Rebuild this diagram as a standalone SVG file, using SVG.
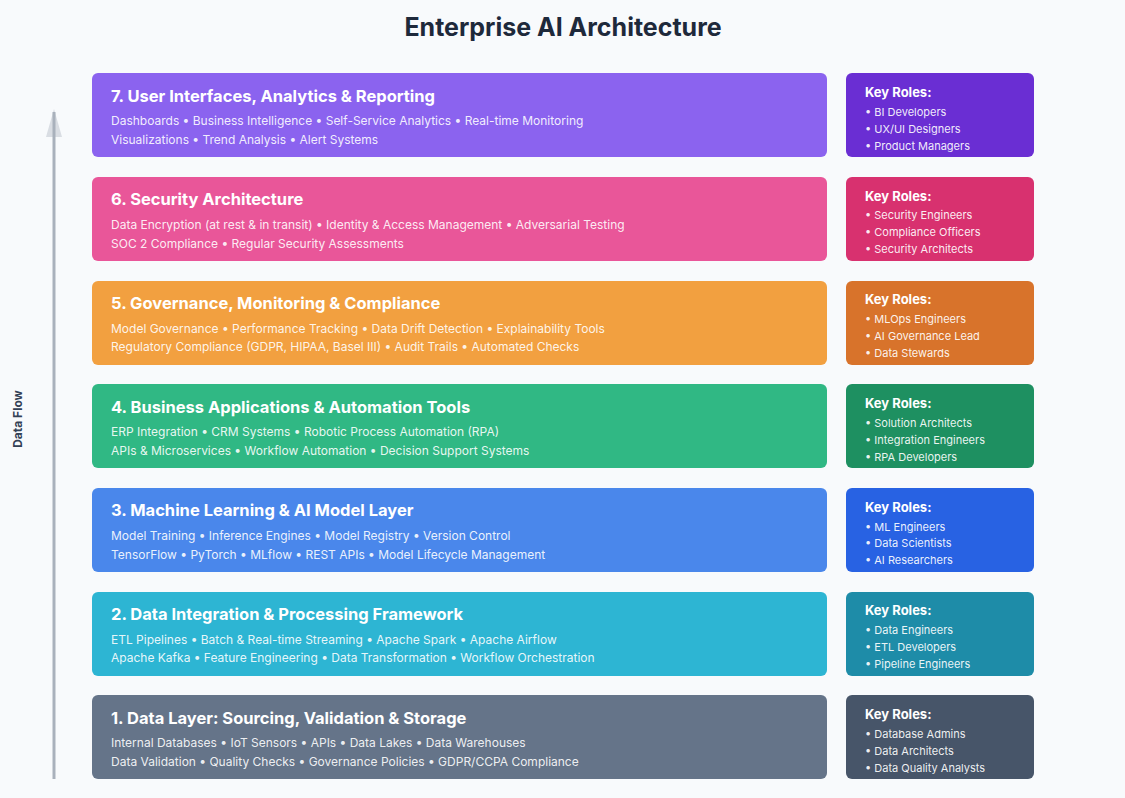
<svg xmlns="http://www.w3.org/2000/svg" width="1125" height="798" viewBox="0 0 1125 798">
<style>
.bg{fill:#f8fafc}
.title{font-family:Inter,"Noto Sans",sans-serif;font-weight:700;font-size:25px;fill:#1e293b}
.lt{font-family:Inter,"Noto Sans",sans-serif;font-weight:700;font-size:16.5px;fill:#ffffff}
.ld{font-family:Inter,"Noto Sans",sans-serif;font-size:12px;fill:#ffffff;fill-opacity:0.9}
.rt{font-family:Inter,"Noto Sans",sans-serif;font-weight:700;font-size:13px;fill:#ffffff}
.ri{font-family:Inter,"Noto Sans",sans-serif;font-size:11px;fill:#ffffff;fill-opacity:0.92}
.flow{font-family:Inter,"Noto Sans",sans-serif;font-weight:700;font-size:12px;fill:#334155}
</style>
<rect class="bg" x="0" y="0" width="1125" height="798"/>
<text class="title" x="563" y="36" text-anchor="middle">Enterprise AI Architecture</text>

<g id="connectors">
<polygon points="54,109 46,137 62,137" fill="#d9dde3"/>
<line x1="54" y1="112" x2="54" y2="779" stroke="#a9b1bc" stroke-width="3"/>
<text class="flow" transform="translate(22,419) rotate(-90)" text-anchor="middle">Data Flow</text>
</g>

<g id="layer7">
<rect x="92" y="73" width="735" height="84" rx="6" fill="#8b63ef"/>
<text class="lt" x="111" y="102">7. User Interfaces, Analytics &amp; Reporting</text>
<text class="ld" x="111" y="125">Dashboards • Business Intelligence • Self-Service Analytics • Real-time Monitoring</text>
<text class="ld" x="111" y="144">Visualizations • Trend Analysis • Alert Systems</text>
</g>
<g id="roles7">
<rect x="846" y="73" width="188" height="84" rx="6" fill="#6a2ed3"/>
<text class="rt" x="865" y="97">Key Roles:</text>
<text class="ri" x="865" y="116">• BI Developers</text>
<text class="ri" x="865" y="133">• UX/UI Designers</text>
<text class="ri" x="865" y="150">• Product Managers</text>
</g>

<g id="layer6">
<rect x="92" y="177" width="735" height="84" rx="6" fill="#e95699"/>
<text class="lt" x="111" y="205">6. Security Architecture</text>
<text class="ld" x="111" y="229">Data Encryption (at rest &amp; in transit) • Identity &amp; Access Management • Adversarial Testing</text>
<text class="ld" x="111" y="248">SOC 2 Compliance • Regular Security Assessments</text>
</g>
<g id="roles6">
<rect x="846" y="177" width="188" height="84" rx="6" fill="#d8316f"/>
<text class="rt" x="865" y="201">Key Roles:</text>
<text class="ri" x="865" y="219">• Security Engineers</text>
<text class="ri" x="865" y="236">• Compliance Officers</text>
<text class="ri" x="865" y="253">• Security Architects</text>
</g>

<g id="layer5">
<rect x="92" y="281" width="735" height="84" rx="6" fill="#f2a040"/>
<text class="lt" x="111" y="309">5. Governance, Monitoring &amp; Compliance</text>
<text class="ld" x="111" y="333">Model Governance • Performance Tracking • Data Drift Detection • Explainability Tools</text>
<text class="ld" x="111" y="351">Regulatory Compliance (GDPR, HIPAA, Basel III) • Audit Trails • Automated Checks</text>
</g>
<g id="roles5">
<rect x="846" y="281" width="188" height="84" rx="6" fill="#d8732b"/>
<text class="rt" x="865" y="304">Key Roles:</text>
<text class="ri" x="865" y="323">• MLOps Engineers</text>
<text class="ri" x="865" y="340">• AI Governance Lead</text>
<text class="ri" x="865" y="357">• Data Stewards</text>
</g>

<g id="layer4">
<rect x="92" y="384" width="735" height="84" rx="6" fill="#30b884"/>
<text class="lt" x="111" y="413">4. Business Applications &amp; Automation Tools</text>
<text class="ld" x="111" y="436">ERP Integration • CRM Systems • Robotic Process Automation (RPA)</text>
<text class="ld" x="111" y="455">APIs &amp; Microservices • Workflow Automation • Decision Support Systems</text>
</g>
<g id="roles4">
<rect x="846" y="384" width="188" height="84" rx="6" fill="#1e9061"/>
<text class="rt" x="865" y="408">Key Roles:</text>
<text class="ri" x="865" y="427">• Solution Architects</text>
<text class="ri" x="865" y="444">• Integration Engineers</text>
<text class="ri" x="865" y="461">• RPA Developers</text>
</g>

<g id="layer3">
<rect x="92" y="488" width="735" height="84" rx="6" fill="#4a87eb"/>
<text class="lt" x="111" y="516">3. Machine Learning &amp; AI Model Layer</text>
<text class="ld" x="111" y="540">Model Training • Inference Engines • Model Registry • Version Control</text>
<text class="ld" x="111" y="559">TensorFlow • PyTorch • MLflow • REST APIs • Model Lifecycle Management</text>
</g>
<g id="roles3">
<rect x="846" y="488" width="188" height="84" rx="6" fill="#2862e3"/>
<text class="rt" x="865" y="512">Key Roles:</text>
<text class="ri" x="865" y="531">• ML Engineers</text>
<text class="ri" x="865" y="547">• Data Scientists</text>
<text class="ri" x="865" y="564">• AI Researchers</text>
</g>

<g id="layer2">
<rect x="92" y="592" width="735" height="84" rx="6" fill="#2db5d3"/>
<text class="lt" x="111" y="620">2. Data Integration &amp; Processing Framework</text>
<text class="ld" x="111" y="644">ETL Pipelines • Batch &amp; Real-time Streaming • Apache Spark • Apache Airflow</text>
<text class="ld" x="111" y="662">Apache Kafka • Feature Engineering • Data Transformation • Workflow Orchestration</text>
</g>
<g id="roles2">
<rect x="846" y="592" width="188" height="84" rx="6" fill="#1e8ca8"/>
<text class="rt" x="865" y="615">Key Roles:</text>
<text class="ri" x="865" y="634">• Data Engineers</text>
<text class="ri" x="865" y="651">• ETL Developers</text>
<text class="ri" x="865" y="668">• Pipeline Engineers</text>
</g>

<g id="layer1">
<rect x="92" y="695" width="735" height="84" rx="6" fill="#657489"/>
<text class="lt" x="111" y="724">1. Data Layer: Sourcing, Validation &amp; Storage</text>
<text class="ld" x="111" y="747">Internal Databases • IoT Sensors • APIs • Data Lakes • Data Warehouses</text>
<text class="ld" x="111" y="766">Data Validation • Quality Checks • Governance Policies • GDPR/CCPA Compliance</text>
</g>
<g id="roles1">
<rect x="846" y="695" width="188" height="84" rx="6" fill="#475569"/>
<text class="rt" x="865" y="719">Key Roles:</text>
<text class="ri" x="865" y="738">• Database Admins</text>
<text class="ri" x="865" y="755">• Data Architects</text>
<text class="ri" x="865" y="772">• Data Quality Analysts</text>
</g>
</svg>
